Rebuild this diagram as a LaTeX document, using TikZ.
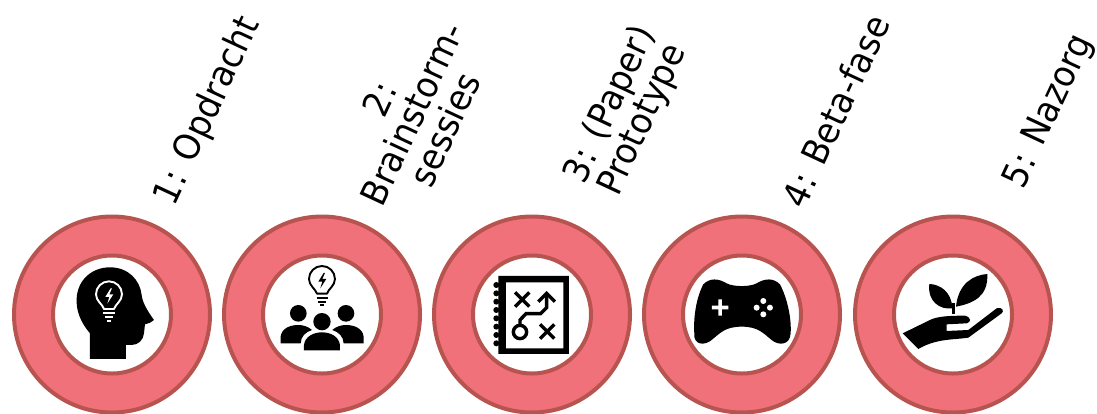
\documentclass[tikz,border=0pt]{standalone}
\usepackage{fontspec}
\setmainfont[FakeStretch=0.93]{DejaVu Sans}
\definecolor{ringfill}{HTML}{F0717A}
\definecolor{ringline}{HTML}{B85450}
\tikzset{
  x=1pt,y=-1pt,
  outerring/.style={circle,draw=ringline,fill=ringfill,line width=4pt,minimum size=196pt,inner sep=0pt,outer sep=0pt},
  innerring/.style={circle,draw=ringline,fill=white,line width=4pt,minimum size=118pt,inner sep=0pt,outer sep=0pt},
  steplabel/.style={rotate=65,align=center,font=\fontsize{36}{36}\selectfont,inner sep=0pt,text=black},
  ico/.style={fill=black,draw=none},
  wl/.style={draw=white,line width=1.9pt,line cap=butt,line join=round},
  bl/.style={draw=black,line width=1.9pt,line cap=butt,line join=round},
  xl/.style={draw=black,line width=3.4pt,line cap=butt,line join=miter},
}
\begin{document}
\begin{tikzpicture}
\useasboundingbox (0,0) rectangle (1097,413);
% rings
\foreach \n/\cx in {1/112,2/322,3/532,4/742,5/953}{
  \node[outerring] (o\n) at (\cx,314.5) {};
  \node[innerring] (i\n) at (\cx,314.5) {};
}
% labels
\node[steplabel] (l1) at (208,111) {1: Opdracht};
\node[steplabel] (l2) at (412,114) {2:\\Brainstorm-\\sessies};
\node[steplabel] (l3) at (627,112.5) {3: (Paper)\\Prototype};
\node[steplabel] (l4) at (835.5,111) {4: Beta-fase};
\node[steplabel] (l5) at (1049.5,111.5) {5: Nazorg};
% icon 1: head
\begin{scope}[shift={(0,205)},x=0.3333pt,y=-0.3333pt]
\fill[ico] (270,462) -- (270,385) .. controls (240,350) and (228,315) .. (230,280)
 .. controls (233,225) and (275,187) .. (330,187) .. controls (385,187) and (420,225) .. (425,270)
 .. controls (427,290) and (440,315) .. (462,345) .. controls (455,352) and (445,356) .. (435,358)
 -- (432,385) .. controls (430,405) and (415,420) .. (395,420) -- (378,420) -- (378,462) -- cycle;
\draw[wl] (312,312) .. controls (308,298) and (288,288) .. (288,268) arc[start angle=180,end angle=360,radius=39] .. controls (366,288) and (346,298) .. (342,312) -- cycle;
\fill[white] (332,250) -- (316,276) -- (328,276) -- (322,296) -- (340,268) -- (328,268) -- (336,250) -- cycle;
\draw[wl] (310,325) -- (344,325) (315,337) -- (339,337) (321,348) -- (333,348);
\end{scope}
% icon 2: people and bulb
\begin{scope}[shift={(0,205)},x=0.3333pt,y=-0.3333pt]
\draw[bl] (951,266) .. controls (947,252) and (927,242) .. (927,222) arc[start angle=180,end angle=360,radius=39] .. controls (1005,242) and (985,252) .. (981,266) -- cycle;
\fill[ico] (971,204) -- (955,230) -- (967,230) -- (961,250) -- (979,222) -- (967,222) -- (975,204) -- cycle;
\draw[bl] (950,280) -- (984,280) (955,291) -- (978,291) (961,301) -- (972,301);
\fill[ico] (895,325) circle[radius=25] (1038,325) circle[radius=25] (966,350) circle[radius=26];
\fill[ico] (842,415) -- (842,395) .. controls (845,370) and (870,360) .. (895,360) .. controls (910,360) and (925,365) .. (936,375) .. controls (915,382) and (903,395) .. (902,415) -- cycle;
\fill[ico] (1091,415) -- (1091,395) .. controls (1088,370) and (1063,360) .. (1038,360) .. controls (1023,360) and (1008,365) .. (997,375) .. controls (1018,382) and (1030,395) .. (1031,415) -- cycle;
\fill[ico] (912,436) -- (912,420) .. controls (915,395) and (940,382) .. (966,382) .. controls (992,382) and (1017,395) .. (1020,420) -- (1020,436) -- cycle;
\end{scope}
% icon 3: plan
\begin{scope}[shift={(430,205)},x=0.3333pt,y=-0.3333pt]
\fill[ico,even odd rule] (205,213) rectangle (417,447) (228,232) rectangle (400,430);
\foreach \y in {240,265,290,315,340,365,390,415}{\fill[ico] (199,\y) circle[radius=9];}
\draw[xl] (255,262) -- (298,305) (298,262) -- (255,305) (330,358) -- (373,401) (373,358) -- (330,401);
\draw[xl] (270,358) -- (270,345) -- (288,326) -- (332,326) -- (350,308) -- (350,268);
\draw[xl] (325,290) -- (350,265) -- (375,290);
\draw[xl] (270,381) circle[radius=20];
\end{scope}
% icon 4: controller
\begin{scope}[shift={(430,205)},x=0.3333pt,y=-0.3333pt]
\fill[ico] (820,238) .. controls (840,218) and (865,220) .. (890,235) .. controls (910,246) and (960,246) .. (980,235)
 .. controls (1005,220) and (1030,218) .. (1050,238) .. controls (1072,280) and (1085,340) .. (1082,385)
 .. controls (1080,422) and (1045,422) .. (1025,405) .. controls (1000,385) and (985,365) .. (935,365)
 .. controls (885,365) and (870,385) .. (845,405) .. controls (825,422) and (790,422) .. (793,385)
 .. controls (790,340) and (798,280) .. (820,238) -- cycle;
\fill[white] (865,283) rectangle (876,332) (846,302) rectangle (895,313);
\fill[white] (1000,288) circle[radius=9] (1000,328) circle[radius=9] (980,308) circle[radius=9] (1020,308) circle[radius=9];
\end{scope}
% icon 5: plant in hand
\begin{scope}[shift={(840,205)},x=0.3333pt,y=-0.3333pt]
\fill[ico] (268,237) .. controls (300,238) and (335,260) .. (337,310) .. controls (300,315) and (262,290) .. (268,237) -- cycle;
\fill[ico] (442,207) .. controls (400,210) and (355,235) .. (348,305) .. controls (400,295) and (445,275) .. (442,207) -- cycle;
\fill[ico] (336,295) rectangle (345,327);
\fill[ico] (188,385) -- (270,345) .. controls (290,335) and (320,332) .. (375,332) .. controls (396,338) and (393,352) .. (380,355) -- (320,358) -- (320,378) -- (385,375) -- (470,310) .. controls (490,305) and (492,320) .. (485,325) -- (385,398) .. controls (340,405) and (290,400) .. (235,432) -- cycle;
\end{scope}
\end{tikzpicture}
\end{document}
